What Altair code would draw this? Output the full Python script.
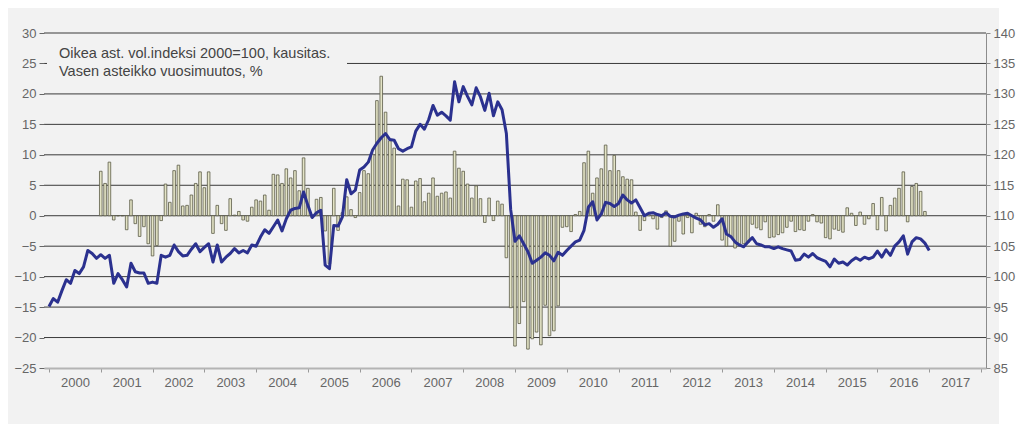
import altair as alt
import pandas as pd

# ---- data ----
years = list(range(2000, 2019))
left_ticks = [-25, -20, -15, -10, -5, 0, 5, 10, 15, 20, 25, 30]
right_ticks = [85, 90, 95, 100, 105, 110, 115, 120, 125, 130, 135, 140]
grid_values = [-20, -15, -10, -5, 0, 5, 10, 15, 20, 25, 30]

# year-on-year change, %, monthly Jan 2001 .. Dec 2016 (left axis)
yoy_change = [
    7.3, 5.3, 8.8, -0.7, 0.0, 0.0, -2.3, 2.6, -1.3, -3.4, -1.8, -4.6,
    -6.6, -4.9, -0.8, 5.2, 2.2, 7.4, 8.3, 1.6, 1.7, 3.4, 5.3, 7.2,
    4.6, 7.2, -2.9, 1.7, -1.3, -2.4, 2.8, 0.1, 0.7, -0.7, -0.9, 1.4,
    2.6, 2.4, 3.4, 0.9, 6.8, 6.7, 5.3, 7.7, 6.2, 7.4, 4.1, 9.5,
    4.5, -0.3, 2.7, 3.0, -2.5, -7.9, 4.5, -2.4, 0.5, 3.1, 1.0, -0.3,
    3.8, 7.4, 6.9, 10.1, 18.9, 22.9, 17.0, 12.3, 11.1, 1.6, 6.0, 5.9,
    1.4, 5.7, 6.1, 2.3, 3.7, 6.2, 3.2, 3.7, 3.9, 2.9, 10.6, 7.8,
    7.3, 5.2, 2.9, 4.9, 2.8, -1.1, 2.9, -0.8, 2.4, 1.9, -6.9, -15.1,
    -21.4, -17.7, -14.1, -21.9, -20.2, -19.1, -21.2, -14.7, -19.7, -18.9, -14.8, -1.9,
    -1.8, -2.6, 0.2, 0.7, 8.7, 10.6, 3.7, 6.2, 7.7, 11.6, 7.4, 9.9,
    7.4, 6.4, 6.0, 5.9, 0.6, -2.4, -0.8, 0.3, -0.5, -2.2, -0.3, 0.8,
    -5.0, -4.2, -0.9, -3.0, -0.3, -2.8, 0.4, -1.4, -1.8, 0.2, -0.9, 1.8,
    -4.0, -5.0, -3.5, -5.3, -4.8, -4.6, -4.4, -1.4, -2.0, -2.3, -1.0, -3.6,
    -3.5, -3.1, -2.8, -1.9, -0.9, -2.6, -2.3, -2.4, -0.9, 0.2, -1.0, -1.2,
    -3.6, -3.8, -2.2, -2.4, -2.7, 1.3, 0.4, -1.6, 0.6, -1.4, -0.5, 2.0,
    -2.3, 3.0, -2.5, 1.7, 2.9, 4.5, 7.2, -1.0, 4.8, 5.3, 4.0, 0.7,
]

# volume index 2000=100, seasonally adjusted, monthly Jan 2000 .. Jan 2017 (right axis)
volume_index = [
    95.1, 96.4, 95.8, 97.7, 99.5, 98.9, 101.0, 100.5, 101.6, 104.3, 103.8, 103.0,
    103.6, 103.0, 103.5, 98.9, 100.5, 99.5, 98.3, 102.2, 100.8, 100.6, 100.6, 98.9,
    99.1, 98.9, 103.5, 103.2, 103.5, 105.2, 104.1, 103.4, 103.5, 104.5, 105.4, 104.1,
    104.8, 105.4, 102.4, 105.2, 102.4, 103.2, 103.8, 104.6, 103.9, 104.3, 103.9, 105.2,
    105.0, 106.5, 107.7, 107.1, 108.2, 109.3, 107.5, 109.5, 110.9, 111.2, 111.3, 113.9,
    111.7, 109.7, 110.5, 110.9, 101.9, 101.3, 108.4, 108.3, 109.8, 115.9, 113.6, 114.2,
    117.5, 118.0, 118.8, 120.8, 121.9, 122.8, 123.5, 122.5, 122.4, 121.0, 120.6, 121.0,
    121.3, 123.9, 125.0, 124.2, 125.8, 128.1, 126.5, 127.0, 126.4, 125.7, 132.0, 128.7,
    131.2, 129.6, 128.2, 131.0, 129.5, 127.3, 130.1, 126.4, 128.7, 127.4, 123.5, 111.0,
    105.8, 106.7, 105.4, 104.1, 102.2, 102.7, 103.2, 103.9, 103.5, 102.6, 104.0, 103.5,
    104.3, 105.0, 105.7, 106.0, 107.6, 111.4, 112.3, 109.3, 110.3, 112.2, 112.0, 111.5,
    112.0, 113.4, 112.6, 112.1, 112.6, 111.3, 110.0, 110.4, 110.5, 110.2, 110.0, 110.5,
    109.9, 109.8, 110.1, 110.3, 110.4, 110.0, 109.6, 109.3, 108.5, 108.7, 108.1, 108.6,
    109.5, 107.0, 106.6, 105.7, 105.2, 104.9, 105.7, 106.4, 105.4, 105.2, 104.9, 104.9,
    104.6, 104.9, 104.6, 104.4, 104.2, 102.7, 102.8, 103.7, 103.2, 103.8, 103.1, 102.8,
    102.5, 101.6, 102.9, 102.2, 102.4, 101.9, 102.6, 103.1, 102.7, 103.2, 102.9, 103.2,
    104.2, 103.2, 104.4, 103.5, 105.0, 105.7, 106.7, 103.7, 105.7, 106.4, 106.2, 105.5,
    104.3,
]

note_lines = ["Oikea ast. vol.indeksi 2000=100, kausitas.", "Vasen asteikko vuosimuutos, %"]

# ---- tables ----
bars_df = pd.DataFrame({"t": [2001 + i / 12 for i in range(len(yoy_change))], "v": yoy_change})
line_df = pd.DataFrame({"t": [2000 + i / 12 for i in range(len(volume_index))], "idx": volume_index})
grid_df = pd.DataFrame({"g": grid_values})
one_df = pd.DataFrame({"k": [0]})

W, H = 942, 335
FONT = "Liberation Sans"
LAB = "#666666"

x_scale = alt.Scale(domain=[2000, 2018], nice=False, zero=False)
yl_scale = alt.Scale(domain=[-25, 30], nice=False, zero=False)
yr_scale = alt.Scale(domain=[85, 140], nice=False, zero=False)

x_axis = alt.Axis(
    values=years, format="d", title=None, grid=False, zindex=1,
    labelExpr="datum.value >= 2018 ? '' : datum.label",
    labelOffset=26, labelFlush=False, labelOverlap=False,
    labelPadding=4, labelFontSize=13, labelColor=LAB, labelFont=FONT,
    domainColor="#b4b4b4", domainWidth=2, tickColor="#999999", tickSize=4, tickWidth=1,
)
left_axis = alt.Axis(
    values=left_ticks, title=None, grid=False, domain=False, orient="left", zindex=1,
    tickColor="#666666", tickSize=5, labelPadding=3,
    labelFontSize=13, labelColor=LAB, labelFont=FONT,
)
right_axis = alt.Axis(
    values=right_ticks, title=None, grid=False, orient="right", zindex=1,
    domainColor="#8c8c8c", tickColor="#8c8c8c", tickSize=4, labelPadding=3,
    labelFontSize=13, labelColor=LAB, labelFont=FONT,
)

bg = alt.Chart(one_df).mark_rect(color="#f2f2f2").encode(
    x=alt.value(-39), x2=alt.value(955), y=alt.value(-30), y2=alt.value(391)
)
grid = alt.Chart(grid_df).mark_rule(color="#3a3a3a", strokeWidth=1).encode(
    y=alt.Y("g:Q", scale=yl_scale, axis=left_axis)
)
bars = alt.Chart(bars_df).mark_bar(
    size=2.6, fill="#e4e4c6", stroke="#5c5c48", strokeWidth=0.8
).encode(
    x=alt.X("t:Q", scale=x_scale, axis=x_axis),
    y=alt.Y("v:Q", scale=yl_scale, axis=left_axis),
    y2=alt.datum(0),
)
note_box = alt.Chart(one_df).mark_rect(color="#f2f2f2").encode(
    x=alt.value(3), x2=alt.value(303), y=alt.value(8), y2=alt.value(50)
)
note_layers = []
for line_text, y_px in zip(note_lines, [25, 43]):
    note_layers.append(
        alt.Chart(pd.DataFrame({"txt": [line_text]})).mark_text(
            align="left", baseline="alphabetic", font=FONT, fontSize=14.5, color="#444444"
        ).encode(x=alt.value(15), y=alt.value(y_px), text="txt:N")
    )

left = alt.layer(bg, grid, bars, note_box, *note_layers)

line = alt.Chart(line_df).mark_line(color="#2b318f", strokeWidth=3, strokeJoin="round").encode(
    x=alt.X("t:Q", scale=x_scale, axis=x_axis),
    y=alt.Y("idx:Q", scale=yr_scale, axis=right_axis),
)

chart = alt.layer(left, line).resolve_scale(y="independent").properties(
    width=W, height=H,
    padding={"left": 36, "top": 25, "right": 30, "bottom": 60},
    autosize=alt.AutoSizeParams(type="none"),
    background="white",
).configure_view(stroke=None).configure(font=FONT)

chart.save("out.html", embed_options={"renderer": "svg", "actions": False})
